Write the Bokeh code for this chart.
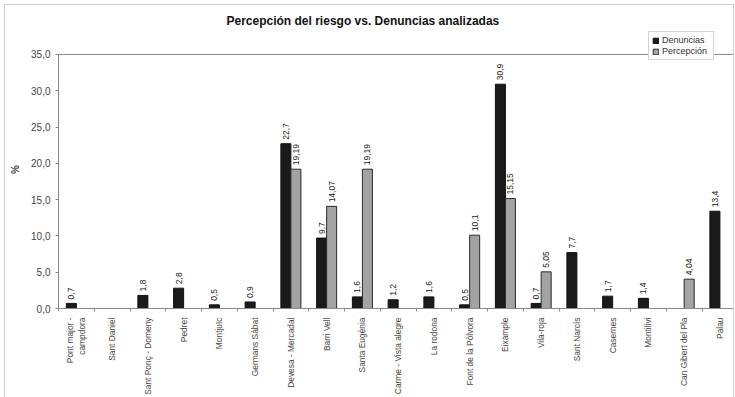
import numpy as np
from bokeh.plotting import figure
from bokeh.models import (ColumnDataSource, Range1d, FixedTicker, Span, Legend,
                          LegendItem)
from bokeh.core.properties import value
from bokeh.embed import file_html
from bokeh.resources import INLINE

chart_title = "Percepción del riesgo vs. Denuncias analizadas"
categories = ["Pont major -\ncampdora", "Sant Daniel", "Sant Ponç - Domeny", "Pedret",
              "Montjuïc", "Germans Sàbat", "Devesa - Mercadal", "Barri Vell",
              "Santa Eugènia", "Carme - Vista alegre", "La rodona", "Font de la Pòlvora",
              "Eixample", "Vila-roja", "Sant Narcís", "Casernes", "Montilivi",
              "Can Gibert del Pla", "Palau"]
denuncias = [0.7, None, 1.8, 2.8, 0.5, 0.9, 22.7, 9.7, 1.6, 1.2, 1.6, 0.5, 30.9, 0.7,
             7.7, 1.7, 1.4, None, 13.4]
percepcion = [None, None, None, None, None, None, 19.19, 14.07, 19.19, None, None, 10.1,
              15.15, 5.05, None, None, None, 4.04, None]
y_ticks = [0, 5, 10, 15, 20, 25, 30, 35]
y_tick_labels = ["0,0", "5,0", "10,0", "15,0", "20,0", "25,0", "30,0", "35,0"]
series_names = ["Denuncias", "Percepción"]

FONT = "Liberation Sans"
BAR_W = 0.28
Y_MAX = 35


def fmt(v):
    return f"{v:g}".replace(".", ",")


def series_source(vals, shift):
    xs, tops, labels = [], [], []
    for i, v in enumerate(vals):
        if v is None:
            continue
        xs.append(i + 0.5 + shift)
        tops.append(v)
        labels.append(fmt(v))
    return ColumnDataSource(dict(x=xs, top=tops, label=labels))


p = figure(frame_width=675, frame_height=278,
           x_range=Range1d(0, 18.88), y_range=Range1d(0, 38.3),
           output_backend="svg", toolbar_location=None,
           min_border_left=53, min_border_right=0, min_border_top=25, min_border_bottom=0)

p.title.text = chart_title
p.title.text_font = FONT
p.title.text_font_size = "12px"
p.title.text_font_style = "bold"
p.title.text_color = "#111111"
p.title.align = "left"
p.title.offset = 168
p.title.standoff = 6

p.outline_line_color = None
p.xgrid.visible = False
p.ygrid.visible = False
p.background_fill_color = "white"
p.border_fill_color = "white"
p.styles = {"border": "1px solid #d0d0d0", "margin": "4px 0 0 4px"}

src_d = series_source(denuncias, -BAR_W / 2)
src_p = series_source(percepcion, BAR_W / 2)

r_d = p.vbar(x="x", top="top", width=BAR_W, bottom=0, source=src_d,
             fill_color="#1a1a1a", line_color="#111111", line_width=1)
r_p = p.vbar(x="x", top="top", width=BAR_W, bottom=0, source=src_p,
             fill_color="#a3a3a3", line_color="#2a2a2a", line_width=1)

for src in (src_d, src_p):
    p.text(x="x", y="top", text="label", source=src, angle=np.pi / 2,
           text_align="left", text_baseline="middle", y_offset=-4,
           text_font=value(FONT), text_font_size="8.5px", text_color="#222222")

# top line of plot area
p.add_layout(Span(location=Y_MAX, dimension="width", line_color="#8a8a8a", line_width=1))

# x axis
centers = [i + 0.5 for i in range(len(categories))]
bounds = [float(i) for i in range(len(categories) + 1)]
p.xaxis.ticker = FixedTicker(ticks=centers, minor_ticks=bounds)
p.xaxis.major_label_overrides = {c: lab for c, lab in zip(centers, categories)}
p.xaxis.major_label_orientation = np.pi / 2
p.xaxis.major_tick_line_color = None
p.xaxis.major_tick_in = 0
p.xaxis.major_tick_out = 0
p.xaxis.minor_tick_in = 0
p.xaxis.minor_tick_out = 3
p.xaxis.minor_tick_line_color = "#8a8a8a"
p.xaxis.axis_line_color = "#8a8a8a"
p.xaxis.major_label_text_font = FONT
p.xaxis.major_label_text_font_size = "8.4px"
p.xaxis.major_label_text_color = "#444444"
p.xaxis.major_label_standoff = 6

# y axis
p.yaxis.ticker = FixedTicker(ticks=y_ticks)
p.yaxis.bounds = (0, Y_MAX)
p.yaxis.major_label_overrides = {t: lab for t, lab in zip(y_ticks, y_tick_labels)}
p.yaxis.minor_tick_line_color = None
p.yaxis.major_tick_in = 0
p.yaxis.major_tick_out = 3
p.yaxis.major_tick_line_color = "#8a8a8a"
p.yaxis.axis_line_color = "#8a8a8a"
p.yaxis.major_label_text_font = FONT
p.yaxis.major_label_text_font_size = "10px"
p.yaxis.major_label_text_color = "#444444"
p.yaxis.major_label_standoff = 5
p.yaxis.axis_label = "%"
p.yaxis.axis_label_text_font = FONT
p.yaxis.axis_label_text_font_size = "10px"
p.yaxis.axis_label_text_font_style = "bold"
p.yaxis.axis_label_standoff = 7

legend = Legend(items=[LegendItem(label=series_names[0], renderers=[r_d]),
                       LegendItem(label=series_names[1], renderers=[r_p])],
                location=(590, 248))
legend.label_text_font = FONT
legend.label_text_font_size = "9px"
legend.label_text_color = "#333333"
legend.glyph_width = 7
legend.glyph_height = 7
legend.label_height = 10
legend.label_width = 48
legend.label_standoff = 3
legend.spacing = 1
legend.padding = 3
legend.margin = 0
legend.border_line_color = "#aaaaaa"
legend.background_fill_alpha = 1
p.add_layout(legend)

open("out.html", "w").write(file_html(p, INLINE))
